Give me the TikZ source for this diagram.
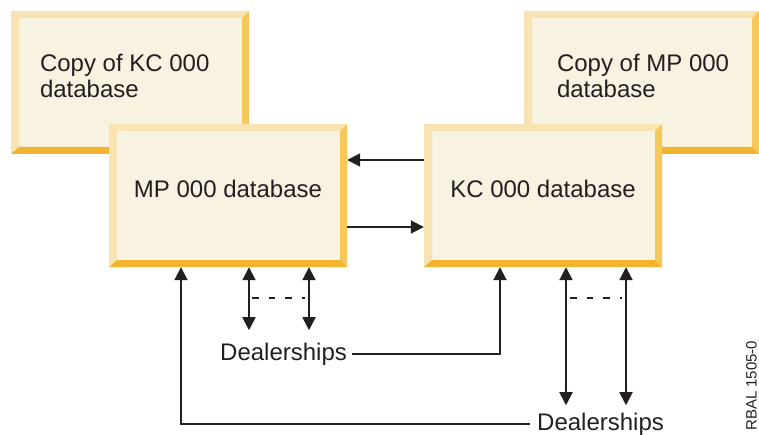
\documentclass[tikz,border=0pt]{standalone}
\usepackage{fontspec}
\setmainfont{Liberation Sans}
\usetikzlibrary{arrows.meta,positioning}

\definecolor{boxface}{HTML}{F8F2E0}
\definecolor{boxlight}{HTML}{F7E4B2}
\definecolor{boxright}{HTML}{F4C85B}
\definecolor{boxbottom}{HTML}{F2B42F}
\definecolor{inkgray}{HTML}{231F20}

\tikzset{
  dbbox/.style={rectangle, inner sep=0pt, minimum width=238pt, minimum height=143pt, fill=boxface,
    path picture={
      \coordinate (nw) at (path picture bounding box.north west);
      \coordinate (ne) at (path picture bounding box.north east);
      \coordinate (sw) at (path picture bounding box.south west);
      \coordinate (se) at (path picture bounding box.south east);
      % light bevel, top and left
      \fill[boxlight] (sw) -- (nw) -- (ne) -- ([shift={(-7pt,-7pt)}]ne)
        -- ([shift={(8pt,-7pt)}]nw) -- ([shift={(8pt,7pt)}]sw) -- cycle;
      % right bevel
      \fill[boxright] (ne) -- (se) -- ([shift={(-7pt,7pt)}]se) -- ([shift={(-7pt,-7pt)}]ne) -- cycle;
      % bottom bevel
      \fill[boxbottom] (sw) -- (se) -- ([shift={(-7pt,7pt)}]se) -- ([shift={(8pt,7pt)}]sw) -- cycle;
    }},
  dbtext/.style={inner sep=0pt, text=inkgray, font=\fontsize{24}{26}\selectfont},
  conn/.style={line width=1.9pt, draw=inkgray, -{Triangle[length=13pt,width=13pt]}},
  twoway/.style={conn, {Triangle[length=13pt,width=13pt]}-{Triangle[length=13pt,width=13pt]}},
  dashlink/.style={line width=1.9pt, draw=inkgray, dash pattern=on 6.5pt off 10pt},
}

\begin{document}
\begin{tikzpicture}[x=1pt,y=1pt]
   \useasboundingbox (0,0) rectangle (759,434);

   % Copies in the back
   \node[dbbox] (kccopy) at (130,351.5) {};
   \node[dbbox, minimum width=235pt] (mpcopy) at (641.5,351.5) {};
   \node[dbtext, align=left, below right=43.5pt and 29pt of kccopy.north west] (kccopytxt) {Copy of KC 000\\database};
   \node[dbtext, align=left, below right=43.5pt and 33pt of mpcopy.north west] (mpcopytxt) {Copy of MP 000\\database};

   % Main databases
   \node[dbbox] (mp) at (228,238.5) {};
   \node[dbbox] (kc) at (543,238.5) {};
   \node[dbtext] (mptxt) at ([yshift=7pt]mp.center) {MP 000 database};
   \node[dbtext] (kctxt) at ([yshift=7pt]kc.center) {KC 000 database};

   % Links between the two
   \draw[conn] ([yshift=35.5pt]kc.west) -- ([yshift=35.5pt]mp.west -| mp.east);
   \draw[conn] ([yshift=-31.5pt]mp.east) -- ([yshift=-31.5pt]mp.east -| kc.west);

   % Dealerships
   \node[dbtext, anchor=base west] (dlmp) at (220,74) {Dealerships};
   \node[dbtext, anchor=base west] (dlkc) at (537,4) {Dealerships};

   % Two-way links under MP
   \coordinate (mpa) at ([xshift=21pt]mp.south);
   \coordinate (mpb) at ([xshift=81pt]mp.south);
   \coordinate (mpaend) at ([yshift=-63pt]mpa);
   \coordinate (mpbend) at ([yshift=-63pt]mpb);
   \draw[twoway] (mpa) -- (mpaend);
   \draw[twoway] (mpb) -- (mpbend);
   \draw[dashlink] ([shift={(3pt,-31pt)}]mpa) -- ([shift={(-4pt,-31pt)}]mpb);

   % Two-way links under KC
   \coordinate (kca) at ([xshift=23pt]kc.south);
   \coordinate (kcb) at ([xshift=83pt]kc.south);
   \coordinate (kcaend) at ([yshift=-138pt]kca);
   \coordinate (kcbend) at ([yshift=-138pt]kcb);
   \draw[twoway] (kca) -- (kcaend);
   \draw[twoway] (kcb) -- (kcbend);
   \draw[dashlink] ([shift={(4pt,-31pt)}]kca) -- ([shift={(-4pt,-31pt)}]kcb);

   % Dealerships to the other database
   \draw[conn] ([xshift=5pt]dlmp.east) -| ([xshift=-43pt]kc.south);
   \draw[conn] ([xshift=-7pt]dlkc.west) -| ([xshift=-47pt]mp.south);

   % Figure number
   \node[inner sep=0pt, text=inkgray, font=\fontsize{15}{15}\selectfont, rotate=90, anchor=base west] (fignum) at (756.5,3) {RBAL 1505-0};
\end{tikzpicture}
\end{document}
